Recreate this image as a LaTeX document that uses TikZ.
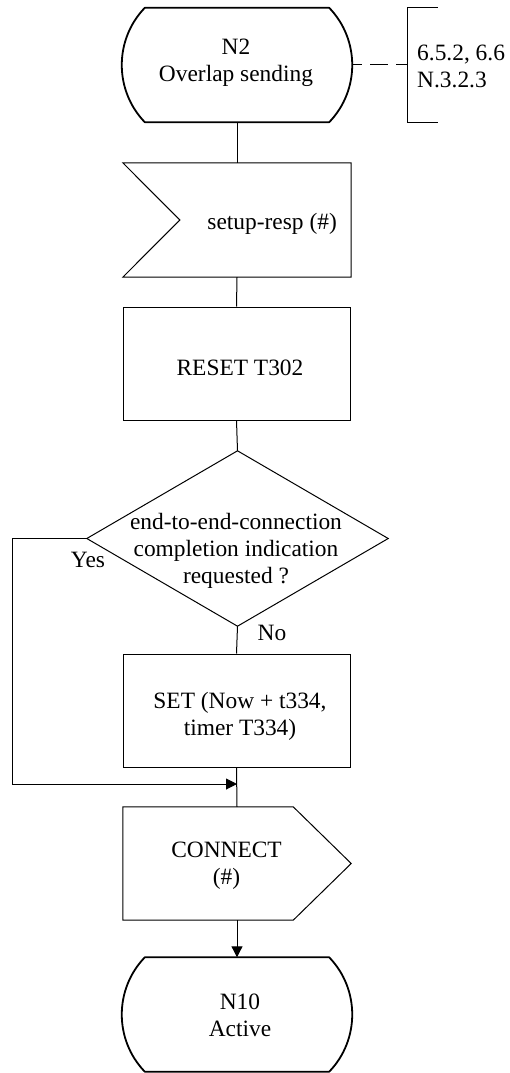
\documentclass[tikz,border=0pt]{standalone}
\usepackage{fontspec}
\setmainfont{Liberation Serif}
\usetikzlibrary{arrows.meta}

\tikzset{
  txt/.style={inner sep=0pt, align=center, font=\fontsize{23.4}{27}\selectfont},
  ghost/.style={inner sep=0pt, minimum width=230pt, minimum height=114pt},
  box/.style={draw, line width=1pt, inner sep=0pt, minimum width=227pt, minimum height=113pt},
  stateline/.style={line width=1.8pt, line join=round},
  outline/.style={line width=1pt, line join=miter},
  link/.style={line width=1pt},
  arrowed/.style={link, -{Triangle[length=11pt,width=11pt]}},
  refdash/.style={link, dash pattern=on 18pt off 8pt, dash phase=8pt},
}

% SDL state symbol: flat top and bottom, bulging sides
\newcommand\stateoutline[1]{%
  \draw[stateline]
    ([xshift=23pt]#1.north west) -- ([xshift=-23pt]#1.north east)
    .. controls ([xshift=7.7pt,yshift=-31.8pt]#1.north east)
            and ([xshift=7.7pt,yshift=31.8pt]#1.south east) ..
    ([xshift=-23pt]#1.south east) -- ([xshift=23pt]#1.south west)
    .. controls ([xshift=-7.7pt,yshift=31.8pt]#1.south west)
            and ([xshift=-7.7pt,yshift=-31.8pt]#1.north west) ..
    cycle;}

\begin{document}
\begin{tikzpicture}[x=1pt,y=-1pt]
\useasboundingbox (0,0) rectangle (510,1073);

% symbol frames
\node[ghost] (n2) at (237,65) {};
\node[ghost, minimum width=30pt, anchor=west] (refs) at (407.5,65) {};
\node[ghost, minimum width=228pt] (inp) at (237,220) {};
\node[box] (reset) at (236.5,363.5) {};
\node[ghost, minimum width=301pt, minimum height=175pt] (dia) at (237.5,538.5) {};
\node[box] (set) at (236.5,710.5) {};
\node[ghost, minimum width=228pt, minimum height=113pt] (out) at (237,863.5) {};
\node[ghost] (n10) at (237,1014.5) {};

\stateoutline{n2}
\stateoutline{n10}

% input signal symbol (notched on the left)
\draw[outline] (inp.north west) -- (inp.north east) -- (inp.south east)
  -- (inp.south west) -- ([xshift=57pt]inp.west) -- cycle;

% decision
\draw[outline] (dia.north) -- (dia.east) -- (dia.south) -- (dia.west) -- cycle;

% output signal symbol (pointed on the right)
\draw[outline] (out.north west) -- ([xshift=-58pt]out.north east) -- (out.east)
  -- ([xshift=-58pt]out.south east) -- (out.south west) -- cycle;

% reference bracket
\draw[link] (refs.north east) -- (refs.north west) -- (refs.south west) -- (refs.south east);

% texts
\node[txt] (t-n2) at (236,62.5) {N2\\Overlap sending};
\node[txt, anchor=west, align=left] (t-refs) at (417,66.5) {6.5.2, 6.6\\N.3.2.3};
\node[txt, anchor=east] (t-inp) at (337,223.5) {setup-resp (\#)};
\node[txt] (t-reset) at (240,368) {RESET T302};
\node[txt] (t-dia) at (236,551) {end-to-end-connection\\completion indication\\requested ?};
\node[txt] (t-yes) at (88,560) {Yes};
\node[txt] (t-no) at (272,633) {No};
\node[txt] (t-set) at (240,716) {SET (Now + t334,\\timer T334)};
\node[txt] (t-out) at (226.5,866) {CONNECT\\(\#)};
\node[txt] (t-n10) at (240,1015.5) {N10\\Active};

% connectors
\coordinate (merge) at (237,784);
\coordinate (yesrail) at (12,784);
\draw[refdash] (n2.east) -- (refs.west);
\draw[link] (n2.south) -- (inp.north);
\draw[link] (inp.south) -- (reset.north);
\draw[link] (reset.south) -- (dia.north);
\draw[link] (dia.south) -- (set.north);
\draw[link] (set.south) -- (out.north);
\draw[arrowed] (dia.west) -| (yesrail) -- (merge);
\draw[arrowed] (out.south) -- (n10.north);
\end{tikzpicture}
\end{document}
